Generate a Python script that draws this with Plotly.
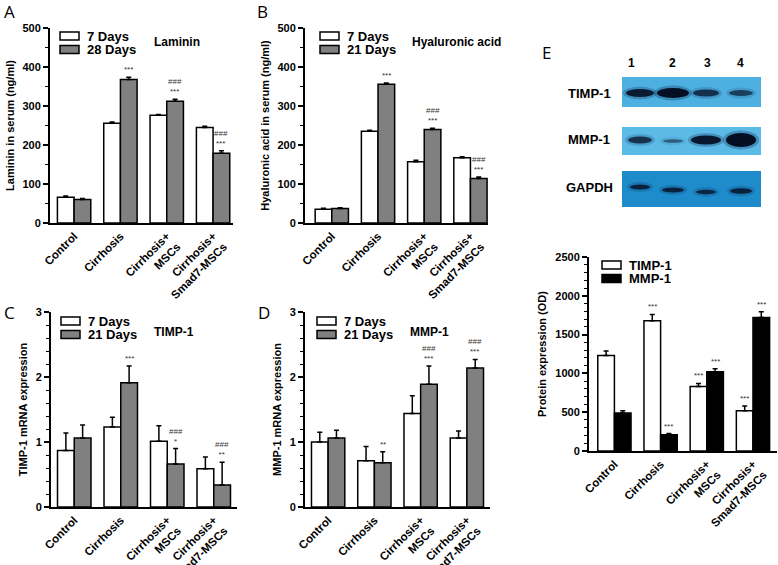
import plotly.graph_objects as go

W, H = 778, 565
def fx(p): return p / W
def fy(p): return 1 - p / H

FONT = "Liberation Sans, Arial, sans-serif"

# ---------------- data ----------------
categories = ["Control", "Cirrhosis", "Cirrhosis+<br>MSCs", "Cirrhosis+<br>Smad7-MSCs"]
xpos = [0, 1, 2, 3]

# A: Laminin
lam_7 = [66, 256, 276, 245]
lam_7_err = [3, 3, 2, 3]
lam_28 = [60, 368, 312, 179]
lam_28_err = [3, 6, 5, 6]
lam_sig_7 = ["", "", "", ""]
lam_sig_28 = ["", "***", "###<br>***", "###<br>***"]

# B: Hyaluronic acid
ha_7 = [35, 235, 157, 167]
ha_7_err = [3, 3, 4, 3]
ha_21 = [37, 356, 240, 114]
ha_21_err = [2, 3, 3, 4]
ha_sig_7 = ["", "", "", ""]
ha_sig_21 = ["", "***", "###<br>***", "###<br>***"]

# C: TIMP-1 mRNA
timp_7 = [0.87, 1.23, 1.01, 0.59]
timp_7_err = [0.27, 0.15, 0.24, 0.18]
timp_21 = [1.06, 1.91, 0.66, 0.34]
timp_21_err = [0.20, 0.26, 0.24, 0.35]
timp_sig_7 = ["", "", "", ""]
timp_sig_21 = ["", "***", "###<br>*", "###<br>**"]

# D: MMP-1 mRNA
mmp_7 = [1.00, 0.71, 1.44, 1.06]
mmp_7_err = [0.15, 0.22, 0.27, 0.11]
mmp_21 = [1.06, 0.68, 1.89, 2.14]
mmp_21_err = [0.12, 0.17, 0.28, 0.13]
mmp_sig_7 = ["", "", "", ""]
mmp_sig_21 = ["", "**", "###<br>***", "###<br>***"]

# E: protein expression (OD)
prot_timp = [1230, 1680, 830, 520]
prot_timp_err = [60, 80, 40, 60]
prot_mmp = [490, 210, 1020, 1720]
prot_mmp_err = [30, 15, 40, 75]
prot_sig_timp = ["", "***", "***", "***"]
prot_sig_mmp = ["", "***", "***", "***"]

# Western blot band intensities (lanes 1-4)
lanes = ["1", "2", "3", "4"]
blot_rows = ["TIMP-1", "MMP-1", "GAPDH"]
band_timp = [0.85, 1.0, 0.65, 0.5]
band_mmp = [0.65, 0.3, 0.9, 1.0]
band_gapdh = [0.75, 0.75, 0.7, 0.75]

# ---------------- layout spec ----------------
panels = [
    dict(ax="", label="A", lx=2, ly=12,
         dom=(50, 233, 28, 223), xr=[-0.52, 3.43], yr=[0, 500], dt=100, mdt=50,
         ytitle="Laminin in serum (ng/ml)",
         s1=dict(name="7 Days", y=lam_7, e=lam_7_err, sig=lam_sig_7, c="white"),
         s2=dict(name="28 Days", y=lam_28, e=lam_28_err, sig=lam_sig_28, c="#808080"),
         sub="Laminin", subx=152, suby=42, legx=60, legy=32),
    dict(ax="2", label="B", lx=255, ly=12,
         dom=(305, 488, 28, 223), xr=[-0.58, 3.38], yr=[0, 500], dt=100, mdt=50,
         ytitle="Hyaluronic acid in serum (ng/ml)",
         s1=dict(name="7 Days", y=ha_7, e=ha_7_err, sig=ha_sig_7, c="white"),
         s2=dict(name="21 Days", y=ha_21, e=ha_21_err, sig=ha_sig_21, c="#808080"),
         sub="Hyaluronic acid", subx=410, suby=42, legx=320, legy=32),
    dict(ax="3", label="C", lx=2, ly=312,
         dom=(51, 237, 312, 507), xr=[-0.5, 3.5], yr=[0, 3], dt=1, mdt=0.2,
         ytitle="TIMP-1 mRNA expression",
         s1=dict(name="7 Days", y=timp_7, e=timp_7_err, sig=timp_sig_7, c="white"),
         s2=dict(name="21 Days", y=timp_21, e=timp_21_err, sig=timp_sig_21, c="#808080"),
         sub="TIMP-1", subx=152, suby=332, legx=61, legy=317),
    dict(ax="4", label="D", lx=256, ly=312,
         dom=(305, 490, 312, 507), xr=[-0.5, 3.5], yr=[0, 3], dt=1, mdt=0.2,
         ytitle="MMP-1 mRNA expression",
         s1=dict(name="7 Days", y=mmp_7, e=mmp_7_err, sig=mmp_sig_7, c="white"),
         s2=dict(name="21 Days", y=mmp_21, e=mmp_21_err, sig=mmp_sig_21, c="#808080"),
         sub="MMP-1", subx=408, suby=332, legx=317, legy=317),
    dict(ax="5", label="E", lx=540, ly=52,
         dom=(589, 777, 257, 451), xr=[-0.55, 3.52], yr=[0, 2500], dt=500, mdt=100,
         ytitle="Protein expression (OD)",
         s1=dict(name="TIMP-1", y=prot_timp, e=prot_timp_err, sig=prot_sig_timp, c="white"),
         s2=dict(name="MMP-1", y=prot_mmp, e=prot_mmp_err, sig=prot_sig_mmp, c="black"),
         sub=None, legx=602, legy=261),
]

fig = go.Figure()
shapes = []
annotations = []
HALF = 0.18  # half-offset of grouped bars (bargap 0.28)

for p in panels:
    ax = p["ax"]
    xa, ya = "x" + ax, "y" + ax
    for s in (p["s1"], p["s2"]):
        fig.add_trace(go.Bar(
            x=xpos, y=s["y"], name=s["name"], xaxis=xa, yaxis=ya, showlegend=False,
            marker=dict(color=s["c"], line=dict(color="black", width=1.5)),
            error_y=dict(type="data", array=s["e"], arrayminus=[0] * 4, symmetric=False,
                         color="black", thickness=1.5, width=2.5),
        ))
    # significance marks
    for s, off in ((p["s1"], -HALF), (p["s2"], HALF)):
        for i in range(4):
            if s["sig"][i]:
                annotations.append(dict(
                    x=xpos[i] + off, y=s["y"][i] + s["e"][i], xref=xa, yref=ya,
                    text=s["sig"][i], showarrow=False, yanchor="bottom", yshift=1,
                    font=dict(family=FONT, size=8, color="#333333")))
    x0, x1, y0, y1 = p["dom"]
    lay = {}
    lay["xaxis" + ax] = dict(
        domain=[fx(x0), fx(x1)], range=p["xr"], anchor=ya, automargin=False,
        tickvals=xpos, ticktext=categories, tickangle=-45, ticks="",
        showline=True, linecolor="black", linewidth=2, showgrid=False, zeroline=False,
        tickfont=dict(family=FONT, size=11.5, color="black", weight="bold"), fixedrange=True)
    lay["yaxis" + ax] = dict(
        domain=[fy(y1), fy(y0)], range=p["yr"], anchor=xa, dtick=p["dt"], automargin=False,
        ticks="outside", ticklen=5, tickwidth=2, tickcolor="black",
        minor=dict(dtick=p["mdt"], ticks="outside", ticklen=3, tickwidth=1, tickcolor="black"),
        showline=True, linecolor="black", linewidth=2, showgrid=False, zeroline=False,
        tickfont=dict(family=FONT, size=11, color="black", weight="bold"),
        title=dict(text=p["ytitle"], font=dict(family=FONT, size=11, color="black", weight="bold"),
                   standoff=6))
    fig.update_layout(**lay)

    # panel label
    annotations.append(dict(x=fx(p["lx"]), y=fy(p["ly"]), xref="paper", yref="paper",
                            text=p["label"], showarrow=False, xanchor="left", yanchor="middle",
                            font=dict(family="Open Sans, sans-serif", size=17, color="black")))
    # legend
    lx, ly = p["legx"], p["legy"]
    for k, s in enumerate((p["s1"], p["s2"])):
        top = ly + k * 13.5
        shapes.append(dict(type="rect", xref="paper", yref="paper",
                           x0=fx(lx), x1=fx(lx + 19), y0=fy(top + 8), y1=fy(top),
                           fillcolor=s["c"], line=dict(color="black", width=1.5)))
        annotations.append(dict(x=fx(lx + 25), y=fy(top + 4), xref="paper", yref="paper",
                                text=s["name"], showarrow=False, xanchor="left", yanchor="middle",
                                font=dict(family=FONT, size=13, color="black", weight="bold")))
    if p["sub"]:
        annotations.append(dict(x=fx(p["subx"]), y=fy(p["suby"]), xref="paper", yref="paper",
                                text=p["sub"], showarrow=False, xanchor="left", yanchor="middle",
                                font=dict(family=FONT, size=12, color="black", weight="bold")))

# ---------------- western blot (panel E top) ----------------
blot_x0, blot_x1 = 622, 761
blot_y = [(77, 107), (127, 155), (171, 207)]
blot_bg = ["rgb(78,176,224)", "rgb(92,186,230)", "rgb(30,140,202)"]
lane_x = [640, 673, 706, 741]
lane_num_x = [631, 672, 707, 740]
bands = [band_timp, band_mmp, band_gapdh]
band_half_w = [[14, 16, 13, 12], [12, 10, 15, 15], [10, 11, 10, 11]]
band_half_h = [[4, 5, 3.5, 3], [3.5, 1.8, 4.5, 7], [2.5, 2.5, 2.2, 2.8]]
band_cy = [[93, 93, 93, 93], [140, 141, 140, 140], [187, 190, 192, 191]]
for r in range(3):
    ya0, ya1 = blot_y[r]
    shapes.append(dict(type="rect", xref="paper", yref="paper", layer="below",
                       x0=fx(blot_x0), x1=fx(blot_x1), y0=fy(ya1), y1=fy(ya0),
                       fillcolor=blot_bg[r], line=dict(width=0)))
    for i in range(4):
        v = bands[r][i]
        hw, hh = band_half_w[r][i], band_half_h[r][i]
        cx, cy = lane_x[i], band_cy[r][i]
        shapes.append(dict(type="circle", xref="paper", yref="paper",
                           x0=fx(cx - hw - 3), x1=fx(cx + hw + 3), y0=fy(cy + hh + 2.5), y1=fy(cy - hh - 2.5),
                           fillcolor="rgba(10,40,80,%.2f)" % (0.3 * v), line=dict(width=0)))
        shapes.append(dict(type="circle", xref="paper", yref="paper",
                           x0=fx(cx - hw), x1=fx(cx + hw), y0=fy(cy + hh), y1=fy(cy - hh),
                           fillcolor="rgba(5,15,35,%.2f)" % (0.3 + 0.7 * v), line=dict(width=0)))
    annotations.append(dict(x=fx(589), y=fy([93, 140, 188][r]), xref="paper", yref="paper",
                            text=blot_rows[r], showarrow=False, xanchor="center", yanchor="middle",
                            font=dict(family=FONT, size=13, color="black", weight="bold")))
for i in range(4):
    annotations.append(dict(x=fx(lane_num_x[i]), y=fy(63), xref="paper", yref="paper",
                            text=lanes[i], showarrow=False, xanchor="center", yanchor="middle",
                            font=dict(family=FONT, size=12, color="black", weight="bold")))

fig.update_layout(
    template="none",
    width=W, height=H, margin=dict(l=0, r=0, t=0, b=0, autoexpand=False),
    paper_bgcolor="white", plot_bgcolor="white",
    barmode="group", bargap=0.28, bargroupgap=0,
    shapes=shapes, annotations=annotations, showlegend=False,
    font=dict(family=FONT, color="black"),
)

fig.write_html("out.html", config={"displayModeBar": False},
               post_script="document.body.style.margin='0px';document.body.style.overflow='hidden';")
